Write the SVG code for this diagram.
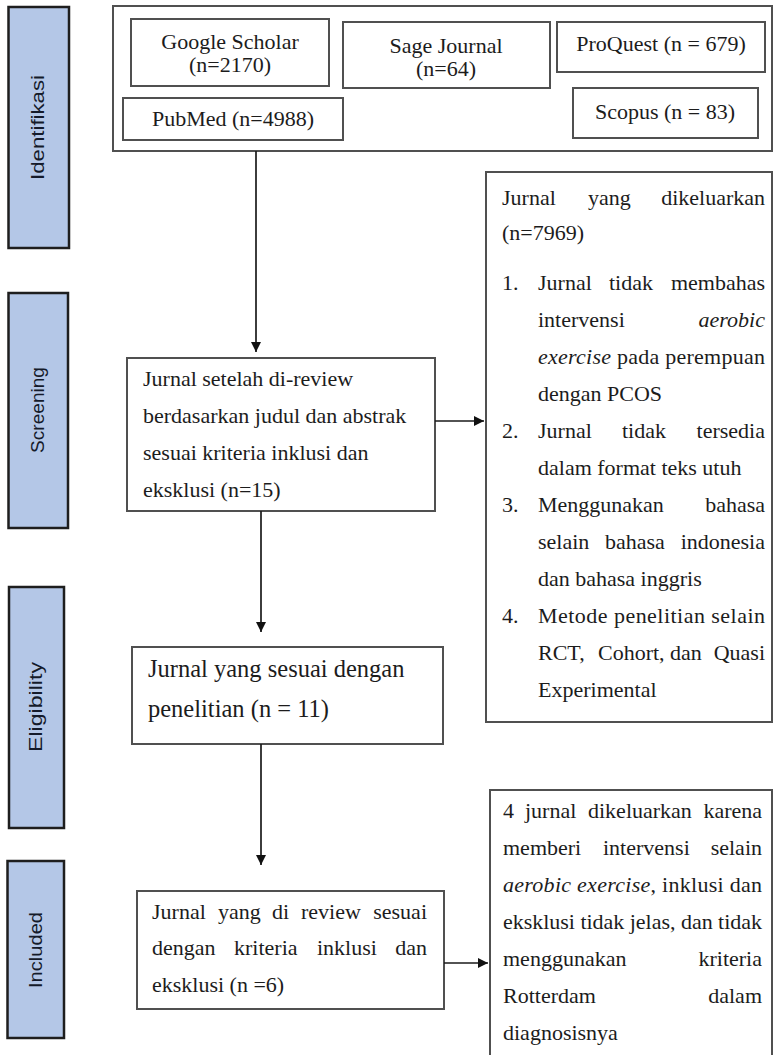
<svg xmlns="http://www.w3.org/2000/svg" width="776" height="1055" viewBox="0 0 776 1055">
<defs>
<style>
.stage{fill:#B4C7E7;stroke:#1e1e1e;stroke-width:2.5}
.stxt{font-family:"Liberation Sans","DejaVu Sans",sans-serif;font-size:19px;fill:#141a2a}
.box{fill:#ffffff;stroke:#505050;stroke-width:2}
.t{font-family:"Liberation Serif","Times New Roman",serif;font-size:22px;fill:#1c1c1c}
.big{font-size:24.5px}
.e{text-anchor:end}
.m{text-anchor:middle}
.i{font-style:italic}
.conn{stroke:#1a1a1a;stroke-width:1.7;fill:none}
</style>
<marker id="ah" markerUnits="userSpaceOnUse" markerWidth="11" markerHeight="11" refX="10" refY="5" orient="auto">
<path d="M0,0 L10,5 L0,10 z" fill="#111111"/>
</marker>
</defs>
<rect x="0" y="0" width="776" height="1055" fill="#ffffff"/>

<g id="stage-identifikasi">
<rect class="stage" x="8.5" y="7" width="60.5" height="241"/>
<text class="stxt m" transform="translate(44,127.5) rotate(-90)" textLength="105" lengthAdjust="spacingAndGlyphs">Identifikasi</text>
</g>
<g id="stage-screening">
<rect class="stage" x="8.5" y="293" width="59.5" height="235"/>
<text class="stxt m" transform="translate(44,410) rotate(-90)" textLength="86" lengthAdjust="spacingAndGlyphs">Screening</text>
</g>
<g id="stage-eligibility">
<rect class="stage" x="9" y="587" width="55" height="241"/>
<text class="stxt m" transform="translate(42,707) rotate(-90)" textLength="90" lengthAdjust="spacingAndGlyphs">Eligibility</text>
</g>
<g id="stage-included">
<rect class="stage" x="7.5" y="861" width="56.5" height="177"/>
<text class="stxt m" transform="translate(42,950) rotate(-90)" textLength="76" lengthAdjust="spacingAndGlyphs">Included</text>
</g>

<g id="identification-group">
<rect class="box" x="113" y="6" width="659" height="145"/>
</g>
<g id="google-scholar">
<rect class="box" x="131" y="19" width="198" height="67"/>
<text class="t m" x="230" y="49">Google Scholar</text>
<text class="t m" x="230" y="72">(n=2170)</text>
</g>
<g id="sage-journal">
<rect class="box" x="343" y="22" width="207" height="66"/>
<text class="t m" x="446" y="53">Sage Journal</text>
<text class="t m" x="446" y="76">(n=64)</text>
</g>
<g id="proquest">
<rect class="box" x="557" y="22" width="208" height="50"/>
<text class="t m" x="661" y="51">ProQuest (n = 679)</text>
</g>
<g id="scopus">
<rect class="box" x="573" y="88" width="185" height="50"/>
<text class="t m" x="665" y="119">Scopus (n = 83)</text>
</g>
<g id="pubmed">
<rect class="box" x="123" y="98" width="220" height="42"/>
<text class="t m" x="233" y="126">PubMed (n=4988)</text>
</g>

<g id="screening-box">
<rect class="box" x="127" y="358" width="308" height="153"/>
<text class="t" x="143" y="386">Jurnal setelah di-review</text>
<text class="t" x="143" y="423">berdasarkan judul dan abstrak</text>
<text class="t" x="143" y="460">sesuai kriteria inklusi dan</text>
<text class="t" x="143" y="497">eksklusi (n=15)</text>
</g>

<g id="excluded-box">
<rect class="box" x="486" y="172" width="286" height="550"/>
<text class="t" x="502" y="205">Jurnal</text><text class="t" x="588" y="205">yang</text><text class="t e" x="765" y="205">dikeluarkan</text>
<text class="t" x="502" y="240">(n=7969)</text>
<text class="t" x="502" y="290">1.</text><text class="t" x="538" y="290">Jurnal</text><text class="t" x="609" y="290">tidak</text><text class="t e" x="765" y="290">membahas</text>
<text class="t" x="538" y="327">intervensi</text><text class="t e i" x="765" y="327">aerobic</text>
<text class="t" x="538" y="364" textLength="227" lengthAdjust="spacing"><tspan class="i">exercise</tspan> pada perempuan</text>
<text class="t" x="538" y="401">dengan PCOS</text>
<text class="t" x="502" y="438">2.</text><text class="t" x="538" y="438">Jurnal</text><text class="t" x="622" y="438">tidak</text><text class="t e" x="765" y="438">tersedia</text>
<text class="t" x="538" y="475">dalam format teks utuh</text>
<text class="t" x="502" y="512">3.</text><text class="t" x="538" y="512">Menggunakan</text><text class="t e" x="765" y="512">bahasa</text>
<text class="t" x="538" y="549">selain</text><text class="t" x="605" y="549">bahasa</text><text class="t e" x="765" y="549">indonesia</text>
<text class="t" x="538" y="586">dan bahasa inggris</text>
<text class="t" x="502" y="623">4.</text><text class="t" x="538" y="623" textLength="227" lengthAdjust="spacing">Metode penelitian selain</text>
<text class="t" x="538" y="660">RCT,</text><text class="t" x="598" y="660">Cohort,</text><text class="t" x="670" y="660">dan</text><text class="t e" x="765" y="660">Quasi</text>
<text class="t" x="538" y="697">Experimental</text>
</g>

<g id="eligibility-box">
<rect class="box" x="132" y="647" width="311" height="97"/>
<text class="t big" x="148" y="677">Jurnal yang sesuai dengan</text>
<text class="t big" x="148" y="717">penelitian (n = 11)</text>
</g>

<g id="included-box">
<rect class="box" x="137" y="891" width="307" height="118"/>
<text class="t" x="152" y="919">Jurnal</text><text class="t" x="218" y="919">yang</text><text class="t" x="272" y="919">di</text><text class="t" x="301" y="919">review</text><text class="t e" x="427" y="919">sesuai</text>
<text class="t" x="152" y="955">dengan</text><text class="t" x="234" y="955">kriteria</text><text class="t" x="317" y="955">inklusi</text><text class="t e" x="427" y="955">dan</text>
<text class="t" x="152" y="992">eksklusi (n =6)</text>
</g>

<g id="excluded-final-box">
<rect class="box" x="490" y="790" width="282" height="275"/>
<text class="t" x="503" y="818">4</text><text class="t" x="525" y="818">jurnal</text><text class="t" x="588" y="818">dikeluarkan</text><text class="t e" x="762" y="818">karena</text>
<text class="t" x="503" y="855">memberi</text><text class="t" x="603" y="855">intervensi</text><text class="t e" x="762" y="855">selain</text>
<text class="t" x="503" y="892" textLength="259" lengthAdjust="spacing"><tspan class="i">aerobic exercise</tspan>, inklusi dan</text>
<text class="t" x="503" y="929" textLength="259" lengthAdjust="spacing">eksklusi tidak jelas, dan tidak</text>
<text class="t" x="503" y="966">menggunakan</text><text class="t e" x="762" y="966">kriteria</text>
<text class="t" x="503" y="1003">Rotterdam</text><text class="t e" x="762" y="1003">dalam</text>
<text class="t" x="503" y="1040">diagnosisnya</text>
</g>

<g id="connectors">
<line class="conn" x1="256" y1="151" x2="256" y2="352" marker-end="url(#ah)"/>
<line class="conn" x1="435" y1="421" x2="484" y2="421" marker-end="url(#ah)"/>
<line class="conn" x1="261" y1="511" x2="261" y2="632" marker-end="url(#ah)"/>
<line class="conn" x1="261" y1="744" x2="261" y2="865" marker-end="url(#ah)"/>
<line class="conn" x1="444" y1="963" x2="488" y2="963" marker-end="url(#ah)"/>
</g>
</svg>
